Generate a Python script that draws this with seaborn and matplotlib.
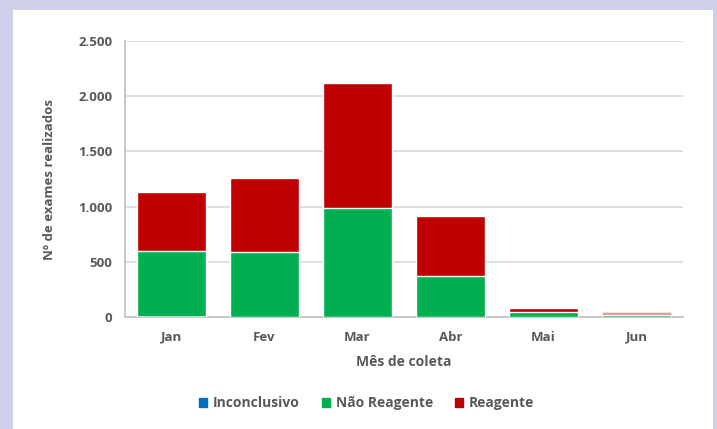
import pandas as pd
import matplotlib.pyplot as plt
import matplotlib.patches as mpatches
from matplotlib.ticker import FuncFormatter, MultipleLocator, FixedLocator
import seaborn as sns

# monthly counts
meses = ["Jan", "Fev", "Mar", "Abr", "Mai", "Jun"]
inconclusivo = [6, 4, 3, 4, 2, 1]
nao_reagente = [592, 582, 985, 367, 41, 20]
reagente = [534, 676, 1135, 544, 36, 27]

df = pd.DataFrame({"mes": meses, "inc": inconclusivo,
                   "nr": nao_reagente, "re": reagente})
df["nivel1"] = df["inc"]
df["nivel2"] = df["inc"] + df["nr"]
df["nivel3"] = df["nivel2"] + df["re"]

sns.set_style("white")
plt.rcParams["font.family"] = ["Open Sans", "DejaVu Sans"]
plt.rcParams["font.weight"] = "bold"

cor_inc = "#0070C0"
cor_nr = "#00B050"
cor_re = "#C00000"
cinza = "#595959"

fig = plt.figure(figsize=(7.17, 4.29), dpi=100)
fig.patch.set_facecolor("#CECFE8")
fig.patches.append(mpatches.Rectangle((13 / 717, 0), 700 / 717, 419 / 429,
                                      transform=fig.transFigure,
                                      facecolor="white", edgecolor="none", zorder=-10))

ax = fig.add_axes([125 / 717, 112 / 429, 558 / 717, 276 / 429])
ax.set_facecolor("none")

# stacked bars drawn as cumulative layers
sns.barplot(data=df, x="mes", y="nivel3", color=cor_re, width=0.75,
            edgecolor="white", linewidth=1, saturation=1, ax=ax, zorder=2)
sns.barplot(data=df, x="mes", y="nivel2", color=cor_nr, width=0.75,
            edgecolor="white", linewidth=1, saturation=1, ax=ax, zorder=3)
sns.barplot(data=df, x="mes", y="nivel1", color=cor_inc, width=0.75,
            edgecolor="white", linewidth=0.5, saturation=1, ax=ax, zorder=4)

# Jun reagente appears faded in the original
ax.containers[0].patches[5].set_alpha(0.45)

ax.set_ylim(0, 2500)
ax.set_xlim(-0.5, 5.5)
ax.yaxis.set_major_locator(MultipleLocator(500))
ax.yaxis.set_major_formatter(FuncFormatter(lambda v, p: f"{int(v):,}".replace(",", ".")))
ax.grid(axis="y", color="#D9D9D9", linewidth=1.2, zorder=0)
ax.set_axisbelow(True)

for s in ["top", "right"]:
    ax.spines[s].set_visible(False)
for s in ["left", "bottom"]:
    ax.spines[s].set_color("#BFBFBF")
    ax.spines[s].set_linewidth(1.2)

ax.xaxis.set_minor_locator(FixedLocator([i - 0.5 for i in range(7)]))
ax.tick_params(axis="x", which="major", length=0, pad=10, labelsize=9.5, labelcolor=cinza)
ax.tick_params(axis="x", which="minor", length=5, color="#BFBFBF", width=1.2)
ax.tick_params(axis="y", length=5, color="#BFBFBF", width=1.2, labelsize=9.5,
               labelcolor=cinza, pad=4)
for lbl in ax.get_xticklabels() + ax.get_yticklabels():
    lbl.set_fontweight("bold")

ax.set_xlabel("Mês de coleta", fontsize=10, color=cinza, fontweight="bold", labelpad=8)
ax.set_ylabel("Nº de exames realizados", fontsize=9.5, color=cinza, fontweight="bold", labelpad=16)

handles = [mpatches.Patch(color=c, label=l) for c, l in
           [(cor_inc, "Inconclusivo"), (cor_nr, "Não Reagente"), (cor_re, "Reagente")]]
leg = fig.legend(handles=handles, loc="center", bbox_to_anchor=(0.5 + 8 / 717, 26 / 429), ncol=3,
                 frameon=False, fontsize=10, handlelength=0.6, handleheight=0.6,
                 handletextpad=0.4, columnspacing=1.6)
for t in leg.get_texts():
    t.set_color(cinza)
    t.set_fontweight("bold")

fig.savefig("out.png", dpi=100, facecolor=fig.get_facecolor())
